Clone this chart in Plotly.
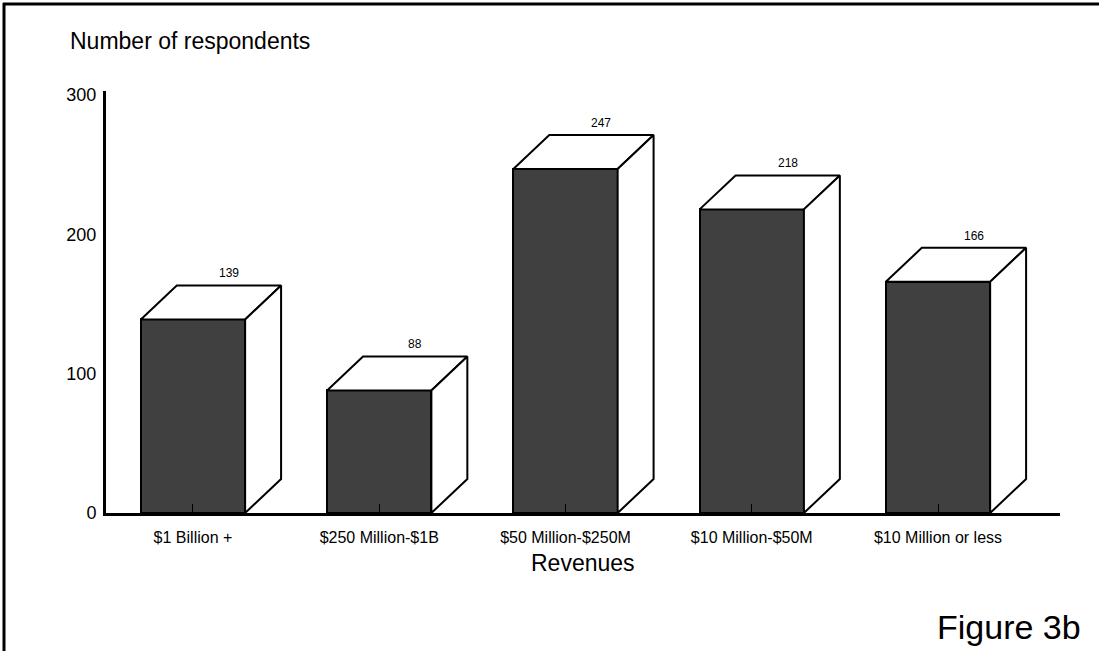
import plotly.graph_objects as go

# Survey counts by company revenue band
categories = ["$1 Billion +", "$250 Million-$1B", "$50 Million-$250M",
              "$10 Million-$50M", "$10 Million or less"]
respondents = [139, 88, 247, 218, 166]
y_ticks = [0, 100, 200, 300]

W, H = 1099, 651
ML, MR, MT, MB = 106, 39, 91, 138
X_RANGE = [-0.467, 4.655]
Y_RANGE = [0, 303]

BAR_W = 0.56        # front face width (category units)
DX = 0.193          # depth offset along x (category units)
DY = 24.4           # depth offset along y (value units)
FRONT = "#404040"
FONT = "Liberation Sans, Arial, sans-serif"


def px_x(p):
    return (p - ML) / (W - ML - MR)


def px_y(p):
    return (H - MB - p) / (H - MT - MB)


fig = go.Figure()

xs = list(range(len(categories)))

# front faces
fig.add_trace(go.Bar(
    x=xs, y=respondents, width=BAR_W,
    marker=dict(color=FRONT, line=dict(color="black", width=2)),
    hoverinfo="skip", showlegend=False,
))

# top and side faces of each box
for i, v in zip(xs, respondents):
    xl, xr = i - BAR_W / 2, i + BAR_W / 2
    top_x = [xl, xl + DX, xr + DX, xr, xl]
    top_y = [v, v + DY, v + DY, v, v]
    side_x = [xr, xr + DX, xr + DX, xr, xr]
    side_y = [0, DY, v + DY, v, 0]
    for px, py in ((top_x, top_y), (side_x, side_y)):
        fig.add_trace(go.Scatter(
            x=px, y=py, mode="lines", fill="toself", fillcolor="white",
            line=dict(color="black", width=2), hoverinfo="skip",
            showlegend=False,
        ))
    fig.add_annotation(
        x=i + DX, y=v + DY, text=str(v), showarrow=False,
        yanchor="bottom", yshift=3, font=dict(size=12, color="black"),
    )

fig.update_xaxes(
    range=X_RANGE, tickmode="array", tickvals=xs, ticktext=categories,
    showline=True, linecolor="black", linewidth=3,
    ticks="inside", ticklen=9, tickwidth=1, tickcolor="black",
    showgrid=False, zeroline=False, tickfont=dict(size=16, color="black"),
    ticklabelstandoff=8,
)
fig.update_yaxes(
    range=Y_RANGE, tickmode="array", tickvals=y_ticks,
    showline=True, linecolor="black", linewidth=3, ticks="",
    showgrid=False, zeroline=False, tickfont=dict(size=18, color="black"),
    ticklabelstandoff=3,
)

# titles
fig.add_annotation(
    xref="paper", yref="paper", x=px_x(68), y=px_y(41),
    xanchor="left", yanchor="middle", text="Number of respondents",
    showarrow=False, font=dict(size=23, color="black"),
)
fig.add_annotation(
    xref="paper", yref="paper", x=px_x(583), y=px_y(563),
    xanchor="center", yanchor="middle", text="Revenues",
    showarrow=False, font=dict(size=23, color="black"),
)
fig.add_annotation(
    xref="paper", yref="paper", x=px_x(1083), y=px_y(627),
    xanchor="right", yanchor="middle", text="Figure 3b",
    showarrow=False, font=dict(size=34, color="black"),
)

# frame along the left and top edges
fig.add_shape(type="line", xref="paper", yref="paper",
              x0=px_x(4), x1=px_x(4), y0=px_y(3), y1=px_y(651),
              line=dict(color="black", width=3))
fig.add_shape(type="line", xref="paper", yref="paper",
              x0=px_x(3), x1=px_x(1099), y0=px_y(4), y1=px_y(4),
              line=dict(color="black", width=3))

fig.update_layout(
    width=W, height=H, margin=dict(l=ML, r=MR, t=MT, b=MB),
    paper_bgcolor="white", plot_bgcolor="white",
    font=dict(family=FONT, color="black"),
    bargap=0, showlegend=False,
)

fig.write_html("out.html")
